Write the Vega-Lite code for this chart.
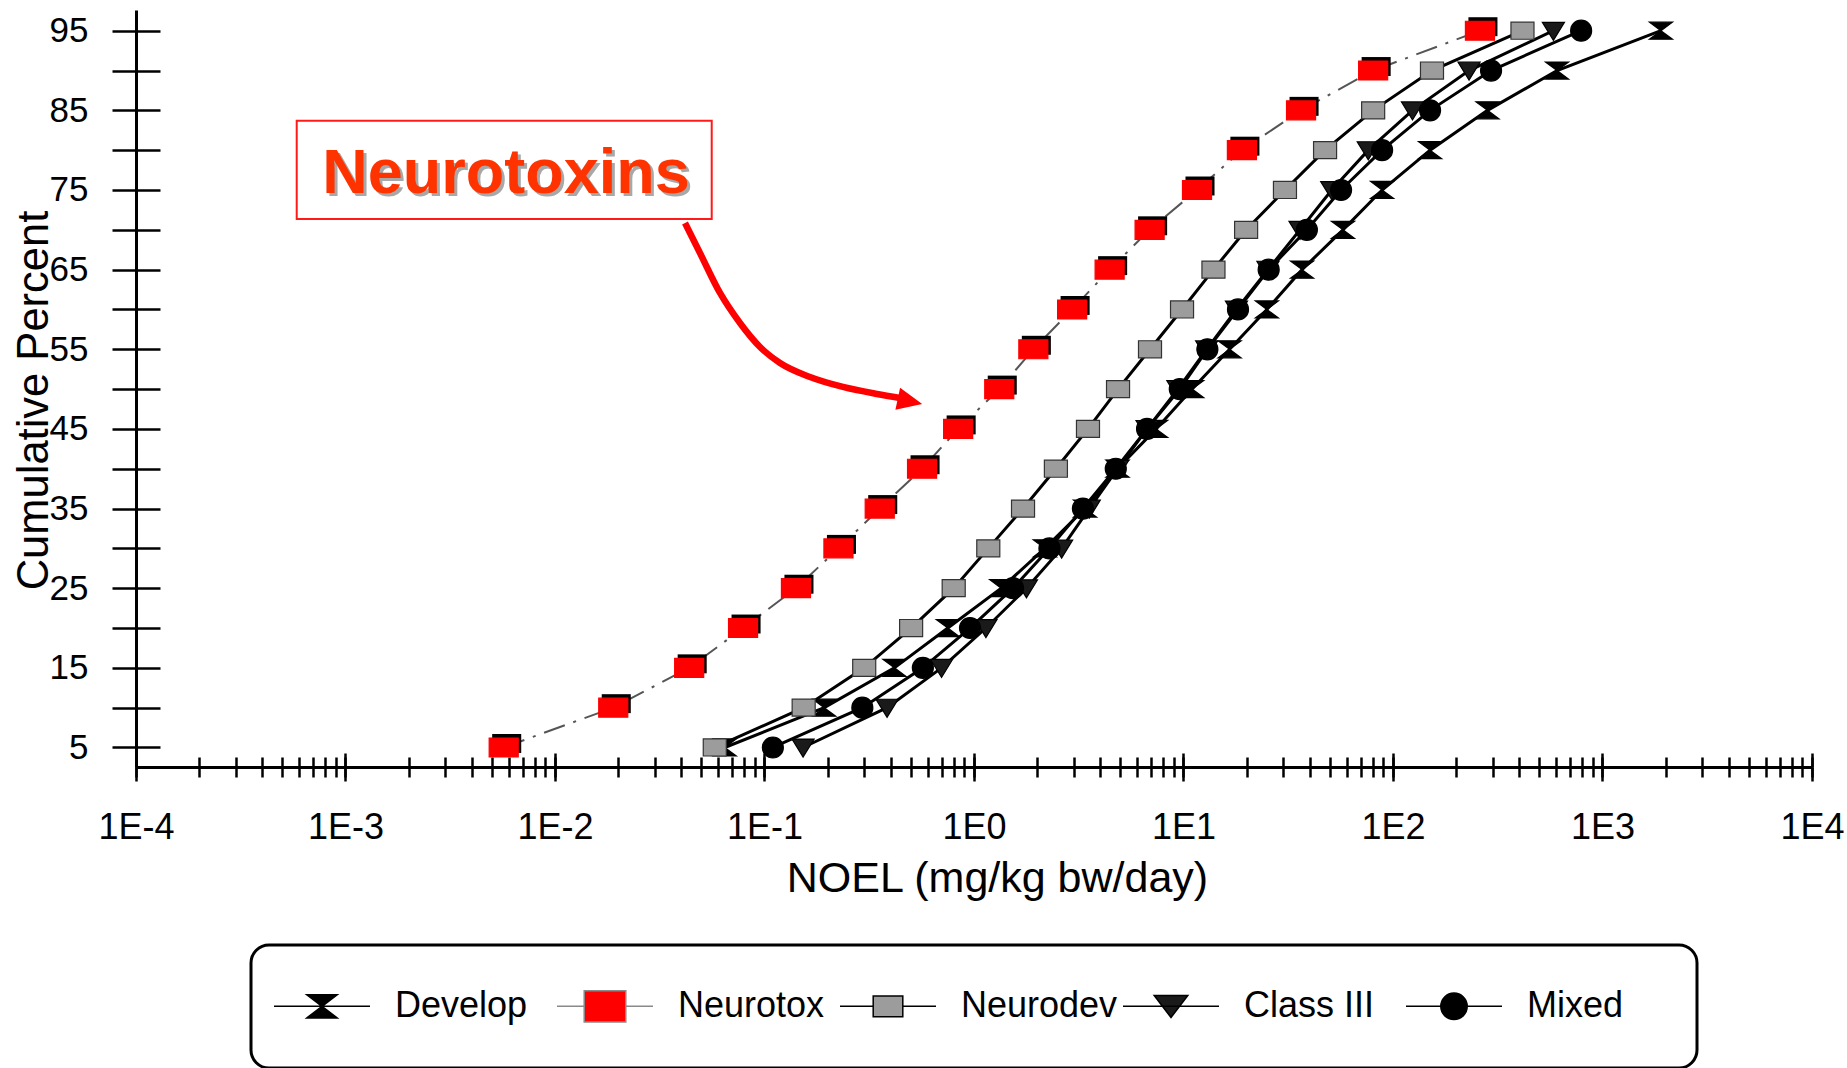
{
  "$schema": "https://vega.github.io/schema/vega-lite/v6.json",
  "width": 1676,
  "height": 757,
  "autosize": {"type": "none"},
  "padding": {"left": 136, "top": 10, "right": 35, "bottom": 301},
  "background": "white",
  "config": {"view": {"stroke": null}, "font": "Liberation Sans", "legend": {"strokeWidth": 3}},
  "resolve": {"scale": {"shape": "independent", "stroke": "independent", "fill": "independent"}, "axis": {"x": "independent", "y": "independent"}},
  "datasets": {
    "pts": [
      {"series": "Develop", "pct": 5, "noel": 0.0646},
      {"series": "Develop", "pct": 10, "noel": 0.1928},
      {"series": "Develop", "pct": 15, "noel": 0.417},
      {"series": "Develop", "pct": 20, "noel": 0.75},
      {"series": "Develop", "pct": 25, "noel": 1.349},
      {"series": "Develop", "pct": 30, "noel": 2.178},
      {"series": "Develop", "pct": 35, "noel": 3.388},
      {"series": "Develop", "pct": 40, "noel": 4.842},
      {"series": "Develop", "pct": 45, "noel": 7.4},
      {"series": "Develop", "pct": 50, "noel": 11.0},
      {"series": "Develop", "pct": 55, "noel": 16.6},
      {"series": "Develop", "pct": 60, "noel": 25.0},
      {"series": "Develop", "pct": 65, "noel": 36.8},
      {"series": "Develop", "pct": 70, "noel": 57.7},
      {"series": "Develop", "pct": 75, "noel": 88.7},
      {"series": "Develop", "pct": 80, "noel": 150.3},
      {"series": "Develop", "pct": 85, "noel": 282.5},
      {"series": "Develop", "pct": 90, "noel": 606.7},
      {"series": "Develop", "pct": 95, "noel": 1901},
      {"series": "Neurotox", "pct": 5, "noel": 0.00569},
      {"series": "Neurotox", "pct": 10, "noel": 0.01897},
      {"series": "Neurotox", "pct": 15, "noel": 0.0437},
      {"series": "Neurotox", "pct": 20, "noel": 0.079},
      {"series": "Neurotox", "pct": 25, "noel": 0.1413},
      {"series": "Neurotox", "pct": 30, "noel": 0.2254},
      {"series": "Neurotox", "pct": 35, "noel": 0.3548},
      {"series": "Neurotox", "pct": 40, "noel": 0.565},
      {"series": "Neurotox", "pct": 45, "noel": 0.84},
      {"series": "Neurotox", "pct": 50, "noel": 1.32},
      {"series": "Neurotox", "pct": 55, "noel": 1.92},
      {"series": "Neurotox", "pct": 60, "noel": 2.94},
      {"series": "Neurotox", "pct": 65, "noel": 4.44},
      {"series": "Neurotox", "pct": 70, "noel": 6.89},
      {"series": "Neurotox", "pct": 75, "noel": 11.6},
      {"series": "Neurotox", "pct": 80, "noel": 19.0},
      {"series": "Neurotox", "pct": 85, "noel": 36.4},
      {"series": "Neurotox", "pct": 90, "noel": 80.4},
      {"series": "Neurotox", "pct": 95, "noel": 260},
      {"series": "Neurodev", "pct": 5, "noel": 0.0579},
      {"series": "Neurodev", "pct": 10, "noel": 0.1538},
      {"series": "Neurodev", "pct": 15, "noel": 0.2992},
      {"series": "Neurodev", "pct": 20, "noel": 0.501},
      {"series": "Neurodev", "pct": 25, "noel": 0.8},
      {"series": "Neurodev", "pct": 30, "noel": 1.17},
      {"series": "Neurodev", "pct": 35, "noel": 1.714},
      {"series": "Neurodev", "pct": 40, "noel": 2.46},
      {"series": "Neurodev", "pct": 45, "noel": 3.5},
      {"series": "Neurodev", "pct": 50, "noel": 4.87},
      {"series": "Neurodev", "pct": 55, "noel": 6.92},
      {"series": "Neurodev", "pct": 60, "noel": 9.84},
      {"series": "Neurodev", "pct": 65, "noel": 13.9},
      {"series": "Neurodev", "pct": 70, "noel": 19.9},
      {"series": "Neurodev", "pct": 75, "noel": 30.5},
      {"series": "Neurodev", "pct": 80, "noel": 47.4},
      {"series": "Neurodev", "pct": 85, "noel": 80.4},
      {"series": "Neurodev", "pct": 90, "noel": 153.5},
      {"series": "Neurodev", "pct": 95, "noel": 415},
      {"series": "Class III", "pct": 5, "noel": 0.1528},
      {"series": "Class III", "pct": 10, "noel": 0.3846},
      {"series": "Class III", "pct": 15, "noel": 0.7},
      {"series": "Class III", "pct": 20, "noel": 1.14},
      {"series": "Class III", "pct": 25, "noel": 1.78},
      {"series": "Class III", "pct": 30, "noel": 2.62},
      {"series": "Class III", "pct": 35, "noel": 3.55},
      {"series": "Class III", "pct": 40, "noel": 4.85},
      {"series": "Class III", "pct": 45, "noel": 6.7},
      {"series": "Class III", "pct": 50, "noel": 9.4},
      {"series": "Class III", "pct": 55, "noel": 12.9},
      {"series": "Class III", "pct": 60, "noel": 17.9},
      {"series": "Class III", "pct": 65, "noel": 25.3},
      {"series": "Class III", "pct": 70, "noel": 36.0},
      {"series": "Class III", "pct": 75, "noel": 51.0},
      {"series": "Class III", "pct": 80, "noel": 76.2},
      {"series": "Class III", "pct": 85, "noel": 123.9},
      {"series": "Class III", "pct": 90, "noel": 230.7},
      {"series": "Class III", "pct": 95, "noel": 583},
      {"series": "Mixed", "pct": 5, "noel": 0.1096},
      {"series": "Mixed", "pct": 10, "noel": 0.2931},
      {"series": "Mixed", "pct": 15, "noel": 0.57},
      {"series": "Mixed", "pct": 20, "noel": 0.957},
      {"series": "Mixed", "pct": 25, "noel": 1.535},
      {"series": "Mixed", "pct": 30, "noel": 2.291},
      {"series": "Mixed", "pct": 35, "noel": 3.31},
      {"series": "Mixed", "pct": 40, "noel": 4.75},
      {"series": "Mixed", "pct": 45, "noel": 6.7},
      {"series": "Mixed", "pct": 50, "noel": 9.6},
      {"series": "Mixed", "pct": 55, "noel": 13.0},
      {"series": "Mixed", "pct": 60, "noel": 18.2},
      {"series": "Mixed", "pct": 65, "noel": 25.5},
      {"series": "Mixed", "pct": 70, "noel": 38.8},
      {"series": "Mixed", "pct": 75, "noel": 56.5},
      {"series": "Mixed", "pct": 80, "noel": 88.7},
      {"series": "Mixed", "pct": 85, "noel": 150.3},
      {"series": "Mixed", "pct": 90, "noel": 293.8},
      {"series": "Mixed", "pct": 95, "noel": 790.7}
    ],
    "arrow": [
      {"noel": 0.04174, "pct": 70.86},
      {"noel": 0.04921, "pct": 67.09},
      {"noel": 0.06132, "pct": 62.07},
      {"noel": 0.07638, "pct": 58.3},
      {"noel": 0.09517, "pct": 55.29},
      {"noel": 0.1186, "pct": 53.28},
      {"noel": 0.1649, "pct": 51.52},
      {"noel": 0.2369, "pct": 50.27},
      {"noel": 0.3443, "pct": 49.39},
      {"noel": 0.4433, "pct": 48.89}
    ],
    "head": [{"noel": 0.4948, "pct": 48.45}],
    "note": [{"left": 0.000585, "right": 0.05598, "top": 83.7, "bottom": 71.36, "tx": 0.005836, "ty": 74.62, "label": "Neurotoxins"}]
  },
  "layer": [
    {
      "data": {"name": "pts"},
      "transform": [{"filter": "datum.series !== 'Neurotox'"}],
      "mark": {"type": "line", "stroke": "black", "strokeWidth": 3},
      "encoding": {
        "x": {
          "field": "noel", "type": "quantitative",
          "scale": {"type": "log", "domain": [0.0001, 10000], "nice": false},
          "axis": {
            "orient": "bottom",
            "values": [0.0001,0.0002,0.0003,0.0004,0.0005,0.0006,0.0007,0.0008,0.0009,0.001,0.002,0.003,0.004,0.005,0.006,0.007,0.008,0.009,0.01,0.02,0.03,0.04,0.05,0.06,0.07,0.08,0.09,0.1,0.2,0.3,0.4,0.5,0.6,0.7,0.8,0.9,1,2,3,4,5,6,7,8,9,10,20,30,40,50,60,70,80,90,100,200,300,400,500,600,700,800,900,1000,2000,3000,4000,5000,6000,7000,8000,9000,10000],
            "labelExpr": "abs(log(datum.value)/LN10 - round(log(datum.value)/LN10)) < 0.01 ? '1E' + round(log(datum.value)/LN10) : ''",
            "labelFlush": false,
            "labelOverlap": false,
            "labelFont": "Liberation Sans",
            "labelFontSize": 36,
            "labelColor": "black",
            "tickSize": 10,
            "labelPadding": 33,
            "tickColor": "black",
            "tickWidth": 2.5,
            "domainColor": "black",
            "domainWidth": 3,
            "grid": false,
            "title": "NOEL (mg/kg bw/day)",
            "titleFont": "Liberation Sans",
            "titleFontSize": 43,
            "titleFontWeight": "normal",
            "titleColor": "black",
            "titleX": 861,
            "titleY": 124,
            "titleAlign": "center",
            "titleBaseline": "alphabetic"
          }
        },
        "y": {
          "field": "pct", "type": "quantitative",
          "scale": {"domain": [2.55, 97.6], "nice": false, "zero": false},
          "axis": {
            "orient": "left",
            "values": [5,10,15,20,25,30,35,40,45,50,55,60,65,70,75,80,85,90,95],
            "labelExpr": "datum.value % 10 == 5 ? datum.label : ''",
            "labelFont": "Liberation Sans",
            "labelFontSize": 35,
            "labelColor": "black",
            "tickSize": 24,
            "labelPadding": 24,
            "tickColor": "black",
            "tickWidth": 2.5,
            "domainColor": "black",
            "domainWidth": 3,
            "grid": false,
            "title": "Cumulative Percent",
            "titleFont": "Liberation Sans",
            "titleFontSize": 43.5,
            "titleFontWeight": "normal",
            "titleColor": "black",
            "titleAngle": -90,
            "titleX": -89,
            "titleY": 390,
            "titleAlign": "center",
            "titleBaseline": "alphabetic"
          }
        },
        "detail": {"field": "series"}
      }
    },
    {
      "data": {"name": "pts"},
      "transform": [{"filter": "datum.series === 'Neurotox'"}],
      "mark": {"type": "line", "stroke": "#555555", "strokeWidth": 2, "strokeDash": [22, 9, 3, 9]},
      "encoding": {
        "x": {
          "field": "noel", "type": "quantitative",
          "scale": {"type": "log", "domain": [0.0001, 10000], "nice": false},
          "axis": {
            "orient": "bottom", "offset": -10, "tickSize": 10, "tickWidth": 2.5, "tickColor": "black",
            "values": [0.0001,0.0002,0.0003,0.0004,0.0005,0.0006,0.0007,0.0008,0.0009,0.001,0.002,0.003,0.004,0.005,0.006,0.007,0.008,0.009,0.01,0.02,0.03,0.04,0.05,0.06,0.07,0.08,0.09,0.1,0.2,0.3,0.4,0.5,0.6,0.7,0.8,0.9,1,2,3,4,5,6,7,8,9,10,20,30,40,50,60,70,80,90,100,200,300,400,500,600,700,800,900,1000,2000,3000,4000,5000,6000,7000,8000,9000,10000],
            "domain": false, "labels": false, "grid": false, "title": null
          }
        },
        "y": {
          "field": "pct", "type": "quantitative",
          "scale": {"domain": [2.55, 97.6], "nice": false, "zero": false},
          "axis": {
            "orient": "left", "offset": -24, "tickSize": 24, "tickWidth": 2.5, "tickColor": "black",
            "values": [5,10,15,20,25,30,35,40,45,50,55,60,65,70,75,80,85,90,95],
            "domain": false, "labels": false, "grid": false, "title": null
          }
        }
      }
    },
    {
      "data": {"name": "pts"},
      "transform": [{"filter": "datum.series === 'Neurotox'"}],
      "mark": {"type": "point", "filled": true, "opacity": 1, "fill": "black", "size": 576, "xOffset": 3, "yOffset": -4, "shape": "M-1.21,-0.79L1.21,-0.79L1.21,0.79L-1.21,0.79Z"},
      "encoding": {
        "x": {
          "field": "noel", "type": "quantitative",
          "scale": {"type": "log", "domain": [0.0001, 10000], "nice": false},
          "axis": {
            "orient": "bottom", "offset": 0, "tickSize": 14, "tickWidth": 2.5, "tickColor": "black",
            "values": [0.0001, 0.001, 0.01, 0.1, 1, 10, 100, 1000, 10000],
            "domain": false, "labels": false, "grid": false, "title": null
          }
        },
        "y": {"field": "pct", "type": "quantitative", "scale": {"domain": [2.55, 97.6], "nice": false, "zero": false}, "axis": null}
      }
    },
    {
      "data": {"name": "pts"},
      "mark": {"type": "point", "filled": true, "opacity": 1, "size": 576, "strokeWidth": 1.2},
      "encoding": {
        "x": {
          "field": "noel", "type": "quantitative",
          "scale": {"type": "log", "domain": [0.0001, 10000], "nice": false},
          "axis": {
            "orient": "bottom", "offset": -14, "tickSize": 14, "tickWidth": 2.5, "tickColor": "black",
            "values": [0.0001, 0.001, 0.01, 0.1, 1, 10, 100, 1000, 10000],
            "domain": false, "labels": false, "grid": false, "title": null
          }
        },
        "y": {"field": "pct", "type": "quantitative", "scale": {"domain": [2.55, 97.6], "nice": false, "zero": false}, "axis": null},
        "shape": {
          "field": "series", "type": "nominal",
          "scale": {
            "domain": ["Develop", "Neurotox", "Neurodev", "Class III", "Mixed"],
            "range": [
              "M-0.96,-0.71L0.96,-0.71L0,0L0.96,0.71L-0.96,0.71L0,0Z",
              "M-1.21,-0.79L1.21,-0.79L1.21,0.79L-1.21,0.79Z",
              "M-0.96,-0.71L0.96,-0.71L0.96,0.71L-0.96,0.71Z",
              "M-0.92,-0.7L0.92,-0.7L0,0.8Z",
              "M-0.875,0A0.875,0.875 0 1,0 0.875,0A0.875,0.875 0 1,0 -0.875,0Z"
            ]
          },
          "legend": null
        },
        "fill": {
          "field": "series", "type": "nominal",
          "scale": {"domain": ["Develop", "Neurotox", "Neurodev", "Class III", "Mixed"], "range": ["black", "#ff0000", "#9c9c9c", "#1a1a1a", "black"]},
          "legend": null
        },
        "stroke": {
          "field": "series", "type": "nominal",
          "scale": {"domain": ["Develop", "Neurotox", "Neurodev", "Class III", "Mixed"], "range": ["black", "#ff0000", "#333333", "black", "black"]},
          "legend": null
        }
      }
    },
    {
      "data": {"name": "pts"},
      "mark": {"type": "point", "filled": true, "opacity": 1, "size": 0, "strokeWidth": 3.5},
      "encoding": {
        "x": {"field": "noel", "type": "quantitative", "scale": {"type": "log", "domain": [0.0001, 10000], "nice": false}, "axis": null},
        "y": {"field": "pct", "type": "quantitative", "scale": {"domain": [2.55, 97.6], "nice": false, "zero": false}, "axis": null},
        "fill": {
          "field": "series", "type": "nominal",
          "scale": {"domain": ["Develop", "Neurotox", "Neurodev", "Class III", "Mixed"], "range": ["black", "#ff0000", "#9c9c9c", "#1a1a1a", "black"]},
          "legend": null
        },
        "stroke": {
          "field": "series", "type": "nominal",
          "scale": {"domain": ["Develop", "Neurotox", "Neurodev", "Class III", "Mixed"], "range": ["black", "#8a8a8a", "black", "black", "black"]},
          "legend": null
        },
        "shape": {
          "field": "series", "type": "nominal",
          "scale": {
            "domain": ["Develop", "Neurotox", "Neurodev", "Class III", "Mixed"],
            "range": [
              "M-0.95,0L1.45,0M-0.13,-0.29L0.63,-0.29L0.25,0L0.63,0.29L-0.13,0.29L0.25,0ZM0.25,-0.96L0.25,-0.96M0.25,0.96L0.25,0.96",
              "M-0.95,0L-0.27,0M0.77,0L1.45,0M-0.27,-0.39L0.77,-0.39L0.77,0.39L-0.27,0.39ZM0.25,-0.96L0.25,-0.96M0.25,0.96L0.25,0.96",
              "M-0.95,0L-0.12,0M0.62,0L1.45,0M-0.12,-0.26L0.62,-0.26L0.62,0.26L-0.12,0.26ZM0.25,-0.96L0.25,-0.96M0.25,0.96L0.25,0.96",
              "M-0.95,0L1.45,0M-0.17,-0.27L0.67,-0.27L0.25,0.28ZM0.25,-0.96L0.25,-0.96M0.25,0.96L0.25,0.96",
              "M-0.95,0L1.45,0M-0.08,0A0.33,0.33 0 1,0 0.58,0A0.33,0.33 0 1,0 -0.08,0ZM5.75,0L5.75,0M0.25,-0.96L0.25,-0.96M0.25,0.96L0.25,0.96"
            ]
          },
          "legend": {
            "title": null,
            "orient": "none",
            "legendX": 115,
            "legendY": 935,
            "direction": "horizontal",
            "columns": 5,
            "gridAlign": "all",
            "columnPadding": 2,
            "symbolSize": 6400,
            "labelOffset": 42,
            "labelFont": "Liberation Sans",
            "labelFontSize": 36,
            "labelColor": "black",
            "labelLimit": 400,
            "padding": 20,
            "strokeColor": "black",
            "cornerRadius": 18
          }
        }
      }
    },
    {
      "data": {"name": "note"},
      "mark": {"type": "rect", "fill": "white", "stroke": "#ff1a1a", "strokeWidth": 2},
      "encoding": {
        "x": {"field": "left", "type": "quantitative", "scale": {"type": "log", "domain": [0.0001, 10000], "nice": false}, "axis": null},
        "x2": {"field": "right"},
        "y": {"field": "top", "type": "quantitative", "scale": {"domain": [2.55, 97.6], "nice": false, "zero": false}, "axis": null},
        "y2": {"field": "bottom"}
      }
    },
    {
      "data": {"name": "note"},
      "mark": {"type": "text", "font": "Liberation Sans", "fontSize": 63, "fontWeight": "bold", "fill": "#a8a8a8", "align": "center", "baseline": "alphabetic", "dx": 3, "dy": 3},
      "encoding": {
        "x": {"field": "tx", "type": "quantitative", "scale": {"type": "log", "domain": [0.0001, 10000], "nice": false}, "axis": null},
        "y": {"field": "ty", "type": "quantitative", "scale": {"domain": [2.55, 97.6], "nice": false, "zero": false}, "axis": null},
        "text": {"field": "label"}
      }
    },
    {
      "data": {"name": "note"},
      "mark": {"type": "text", "font": "Liberation Sans", "fontSize": 63, "fontWeight": "bold", "fill": "#ff3300", "align": "center", "baseline": "alphabetic"},
      "encoding": {
        "x": {"field": "tx", "type": "quantitative", "scale": {"type": "log", "domain": [0.0001, 10000], "nice": false}, "axis": null},
        "y": {"field": "ty", "type": "quantitative", "scale": {"domain": [2.55, 97.6], "nice": false, "zero": false}, "axis": null},
        "text": {"field": "label"}
      }
    },
    {
      "data": {"name": "arrow"},
      "mark": {"type": "line", "stroke": "#ff0000", "strokeWidth": 6.5, "interpolate": "monotone"},
      "encoding": {
        "x": {"field": "noel", "type": "quantitative", "scale": {"type": "log", "domain": [0.0001, 10000], "nice": false}, "axis": null},
        "y": {"field": "pct", "type": "quantitative", "scale": {"domain": [2.55, 97.6], "nice": false, "zero": false}, "axis": null}
      }
    },
    {
      "data": {"name": "head"},
      "mark": {"type": "point", "filled": true, "opacity": 1, "fill": "#ff0000", "size": 625, "angle": 12, "shape": "M-1,-0.9L1,0L-1,0.9Z"},
      "encoding": {
        "x": {"field": "noel", "type": "quantitative", "scale": {"type": "log", "domain": [0.0001, 10000], "nice": false}, "axis": null},
        "y": {"field": "pct", "type": "quantitative", "scale": {"domain": [2.55, 97.6], "nice": false, "zero": false}, "axis": null}
      }
    }
  ]
}
